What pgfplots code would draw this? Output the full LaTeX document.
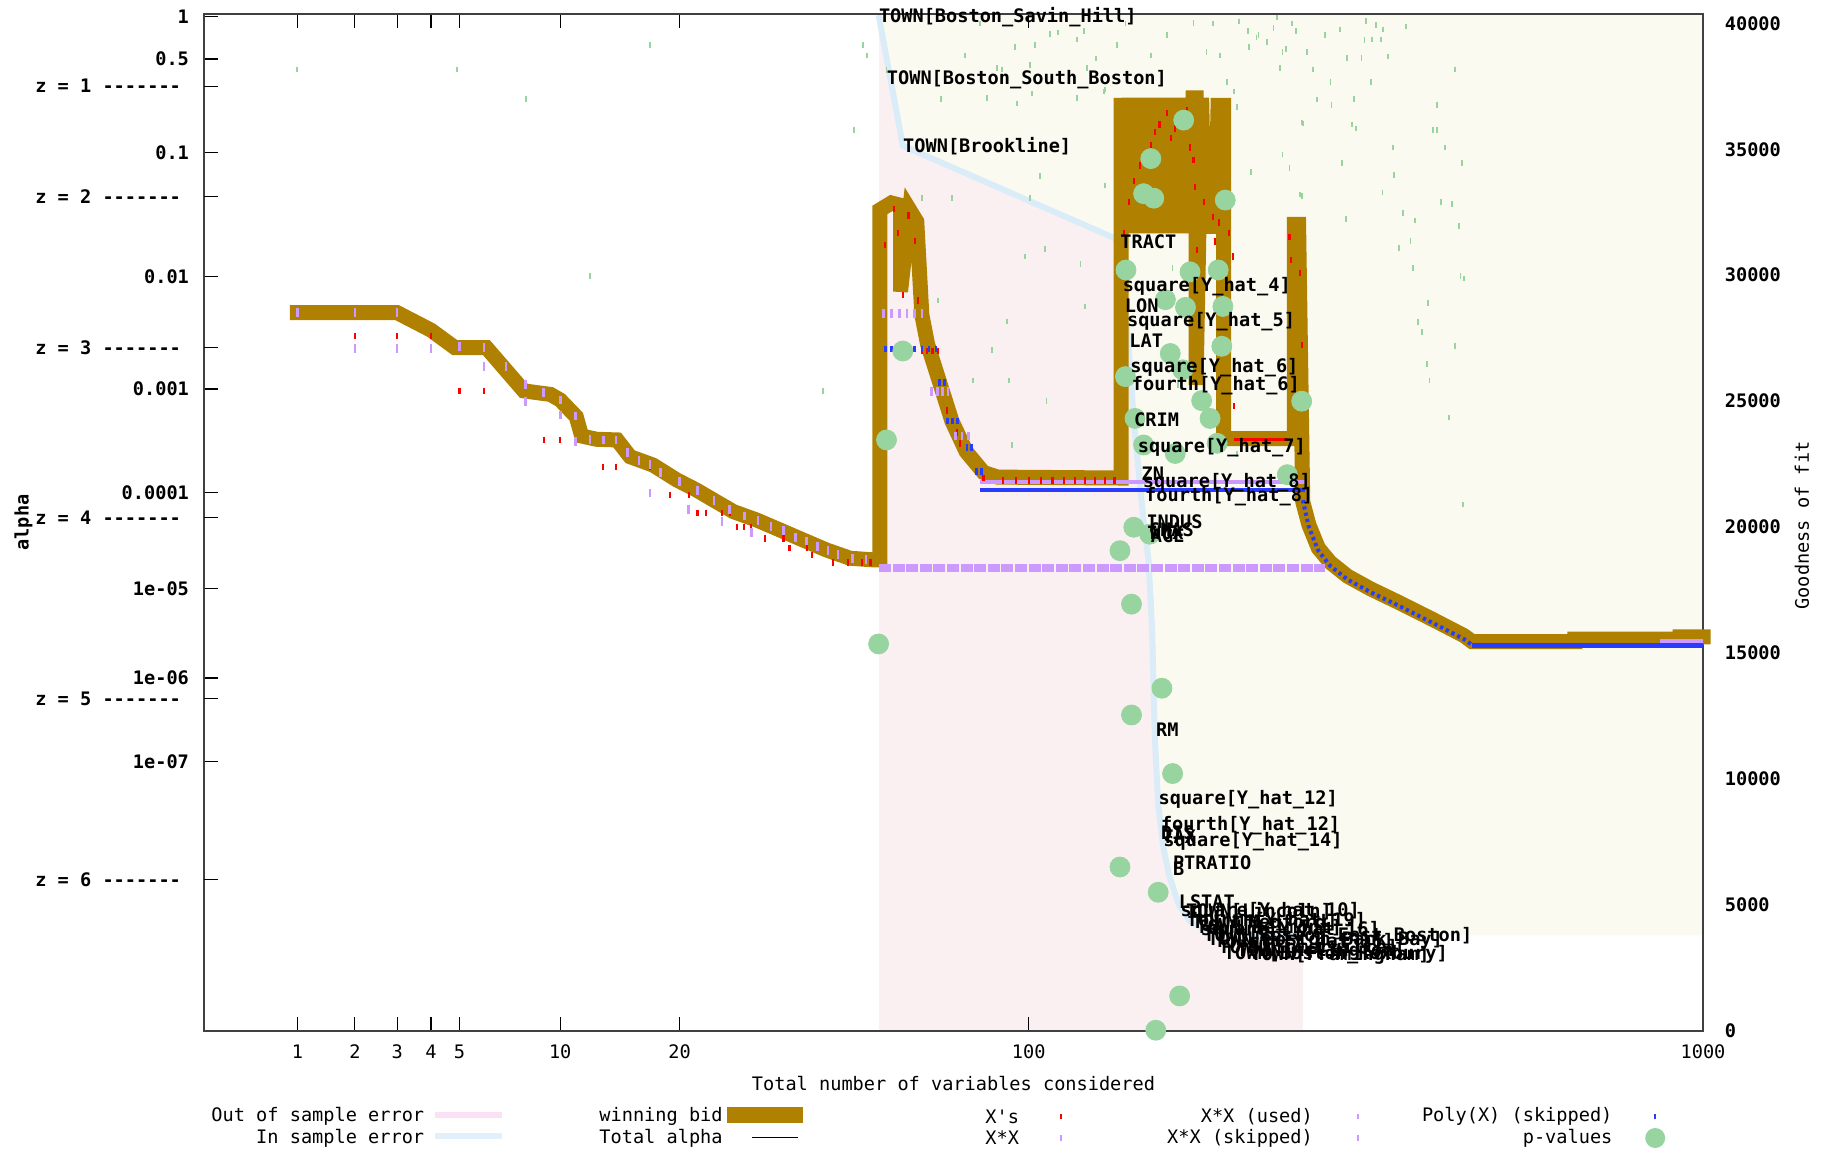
\documentclass[border=0pt]{standalone}
\usepackage{pgfplots}
\pgfplotsset{compat=1.18}
\usepackage{fontspec}
\setmonofont{DejaVu Sans Mono}
\newcommand\gp{\ttfamily\fontsize{9.3}{11}\selectfont}
\newcommand\gpb{\ttfamily\bfseries\fontsize{9.3}{11}\selectfont}
\newcommand\gpdash{-{}-{}-{}-{}-{}-{}-}
\definecolor{brownbid}{RGB}{176,128,0}
\definecolor{pinkbg}{RGB}{250,240,242}
\definecolor{beigebg}{RGB}{250,250,240}
\definecolor{insample}{RGB}{218,236,248}
\definecolor{lav}{RGB}{204,153,255}
\definecolor{bluep}{RGB}{40,60,255}
\definecolor{pgreen}{RGB}{152,212,160}
\definecolor{legpink}{RGB}{250,225,245}
\definecolor{legblue}{RGB}{225,240,250}
\pgfplotsset{
 gpbase/.style={
  scale only axis, width=749.5pt, height=508.5pt,
  x coord trafo/.code={\begingroup\pgfkeys{/pgf/fpu=true,/pgf/fpu/output format=fixed}\pgfmathparse{ln(##1)/ln(10)}\let\gpL\pgfmathresult\pgfmathparse{\gpL*(1+0.643*abs(\gpL))}\xdef\gptmpx{\pgfmathresult}\endgroup\let\pgfmathresult\gptmpx},
  xmin=0.353, xmax=1000,
  tick align=inside, major tick length=7pt,
  every tick/.style={black, line width=0.6pt},
  axis line style={black!75, line width=0.8pt},
  tick label style={font=\gpb},
  clip=false,
 },
}
\begin{document}
\begin{tikzpicture}
%% ---------- right axis: goodness of fit ----------
\begin{axis}[gpbase,
  ymin=0, ymax=40370,
  axis x line=none, axis y line*=right,
  ytick={0,5000,10000,15000,20000,25000,30000,35000,40000},
  yticklabels={0,5000,10000,15000,20000,25000,30000,35000,40000},
  yticklabel style={xshift=7.4pt},
  ylabel={Goodness of fit},
  y label style={font=\gp, at={(axis description cs:1.066,0.497)}, anchor=center},
]
% out of sample error (off the top of the chart)
\addplot[draw=none, fill=pinkbg] coordinates {(52.9,0) (278,0) (278,40370) (52.9,40370)};
% region above the in-sample error
\addplot[draw=none, fill=beigebg] coordinates {
 (52.9,40324) (58.9,35139) (141.2,31435) (144.3,29537) (146.7,28148) (148.6,26343)
 (150.7,24259) (153.6,22130) (156.4,20231) (159.3,18704) (161.5,15926) (163,11806)
 (165.2,8981) (168.2,7361) (172,6204) (178.1,5046) (185.9,4352) (198,3981) (220.6,3843)
 (278,3796) (1000,3796) (1000,40370) (52.9,40370)};
% in sample error
\addplot[insample, line width=3pt] coordinates {
 (52.9,40324) (58.9,35139) (141.2,31435) (144.3,29537) (146.7,28148) (148.6,26343)
 (150.7,24259) (153.6,22130) (156.4,20231) (159.3,18704) (161.5,15926) (163,11806)
 (165.2,8981) (168.2,7361) (172,6204) (178.1,5046) (185.9,4352) (198,3981) (220.6,3843)
 (278,3796)};
\end{axis}
%% ---------- left axis: alpha ----------
\begin{axis}[gpbase,
  y coord trafo/.code={\begingroup\pgfkeys{/pgf/fpu=true,/pgf/fpu/output format=fixed}\pgfmathparse{-ln(9-ln(#1)/ln(10))}\xdef\gptmpy{\pgfmathresult}\endgroup\let\pgfmathresult\gptmpy},
  ymin=2e-11, ymax=1.038,
  ytick={1,0.5,0.1,0.01,0.001,0.0001,1e-5,1e-6,1e-7},
  yticklabels={1,0.5,0.1,0.01,0.001,0.0001,1e-05,1e-06,1e-07},
  extra y ticks={0.3173,0.0455,0.0024,5.6e-5,5.7e-7,3e-9},
  extra y tick labels={z = 1 \gpdash,z = 2 \gpdash,z = 3 \gpdash,z = 4 \gpdash,z = 5 \gpdash,z = 6 \gpdash},
  extra y tick style={ytick pos=left, yticklabel style={xshift=-4pt}},
  ytick pos=left,
  yticklabel style={xshift=-4pt},
  xtick={1,2,3,4,5,10,20,100,1000},
  xticklabels={1,2,3,4,5,10,20,100,1000},
  xticklabel style={font=\gp, yshift=-3.5pt},
  xlabel={Total number of variables considered},
  x label style={font=\gp, at={(axis description cs:0.5,-0.0518)}, anchor=center},
  ylabel={alpha},
  y label style={font=\gpb, at={(axis description cs:-0.1205,0.5)}, anchor=center},
]
% winning bid
\addplot[brownbid, line width=7.5pt, line cap=rect, line join=miter, miter limit=4] coordinates {
 (1,4.86e-3) (3,4.86e-3) (4,3.41e-3) (4.83,2.38e-3) (6.1,2.38e-3) (7.9,9.6e-4) (9.4,8.9e-4)
 (10,7.9e-4) (11.05,5.5e-4) (11.42,3.6e-4) (12.5,3.35e-4) (14.1,3.3e-4) (15.2,2.27e-4)
 (17.3,1.88e-4) (19.7,1.34e-4) (21.9,1.06e-4) (23.9,8.45e-5) (26.5,6.43e-5) (29.8,5.27e-5)
 (33.4,4.17e-5) (37.4,3.27e-5) (41.7,2.58e-5) (46.5,2.11e-5) (51.7,2.03e-5) (53.2,2.03e-5)
 (53.2,0.0354) (56,0.0403) (58.3,0.0386) (58.3,7.4e-3) (60.7,0.0354) (62.6,0.0285)
 (64,4.65e-3) (65.6,2.56e-3) (69.1,1.15e-3) (72.8,5.0e-4) (77.3,2.55e-4) (83.1,1.59e-4)
 (88.1,1.43e-4) (143.6,1.4e-4)
 (143.6,0.26) (146,0.0229) (148,0.26) (150,0.0229) (152,0.26) (154,0.0229) (156,0.26)
 (158,0.0229) (160,0.26) (162,0.0229) (164,0.26) (166,0.0229) (168,0.26) (170,0.0229)
 (172,0.26) (174,0.0229) (176,0.26) (178,0.0229) (180,0.26) (182,0.0229) (184,0.26)
 (186,0.0229) (188,0.26) (190,0.26) (190,1.09e-3) (192,0.0229) (194,0.26) (196,0.0229)
 (198,0.044) (200,0.0229) (202,0.044) (204,0.0229) (206,0.26) (208,0.0229) (210,0.26)
 (210,3.4e-4) (270,3.4e-4) (270,0.027) (274,0.027)
 (278,8.1e-5) (284,4.7e-5) (293.4,2.7e-5) (305.4,1.92e-5) (324.3,1.36e-5) (351,9.9e-6)
 (387,6.97e-6) (434,4.47e-6) (477.5,3.03e-6) (490,2.6e-6) (678,2.6e-6) (678,2.77e-6)
 (934,2.77e-6) (934,2.94e-6) (1000,2.94e-6)};
% X*X (skipped) long row
\addplot[lav, line width=4pt, dash pattern=on 6pt off 0.8pt] coordinates {(53,1.66e-5) (300,1.66e-5)};
% plateau rows
\addplot[lav, line width=2pt] coordinates {(82,1.28e-4) (280,1.28e-4)};
\addplot[bluep, line width=2pt] coordinates {(82,1.06e-4) (280,1.06e-4)};
\addplot[bluep, line width=2pt, dash pattern=on 1.6pt off 1.6pt] coordinates {
 (278,8.4e-5) (284,4.45e-5) (293.4,2.54e-5) (305.4,1.76e-5) (324.3,1.25e-5) (351,9.1e-6)
 (387,6.4e-6) (434,4.1e-6) (477.5,2.77e-6) (490,2.38e-6)};
\addplot[bluep, line width=2.5pt] coordinates {(490,2.38e-6) (1000,2.38e-6)};
\addplot[lav, line width=2pt] coordinates {(880,2.62e-6) (1000,2.62e-6)};
\addplot[red, line width=1.4pt] coordinates {(218,3.35e-4) (263,3.35e-4)};
% X's
\addplot[only marks, mark=|, mark size=1.6pt, red, mark options={line width=1.1pt}] coordinates {
 (2,3.03e-3) (3,3.03e-3) (4,3.03e-3) (5,9.6e-4) (6,9.6e-4) (9,3.3e-4) (10,3.3e-4) (11,3.3e-4)
 (12,3.3e-4) (13,1.8e-4) (14,1.8e-4) (17,1.8e-4) (19,9.5e-5) (21,9.5e-5) (22,6.2e-5) (23,6.2e-5)
 (25,6.2e-5) (26,6.2e-5) (27,4.5e-5) (28,4.5e-5) (29,4.5e-5) (31,3.4e-5) (34,3.4e-5) (35,2.7e-5)
 (38,2.7e-5) (39,2.3e-5) (43,1.9e-5) (46,1.9e-5) (49,1.9e-5) (51,1.9e-5)
 (56.6,0.036) (60.4,0.032) (54.5,0.0183) (57.7,0.0229) (62.1,0.0197) (58.9,6.9e-3) (63,6.2e-3)
 (64,2.22e-3) (65.5,2.22e-3) (67,2.22e-3) (68.5,2.22e-3) (71.2,6.3e-4) (74.3,3.9e-4) (75.4,3.06e-4)
 (83.1,1.4e-4) (90,1.32e-4) (95,1.32e-4) (100,1.32e-4) (105,1.32e-4) (110,1.32e-4) (115,1.32e-4)
 (120,1.32e-4) (125,1.32e-4) (130,1.32e-4) (135,1.32e-4) (140,1.32e-4)
 (170.5,0.2) (166,0.165) (163.3,0.145) (160.7,0.115) (154.5,0.08) (150.6,0.06) (147.9,0.041)
 (145.3,0.0229) (183.6,0.21) (175.8,0.154) (173.5,0.13) (186,0.11) (188.3,0.088) (189.5,0.054)
 (195.5,0.041) (202.4,0.031) (206.4,0.028) (214,0.0229) (203.7,0.0196) (217,0.0147) (190.8,0.0167)
 (265.5,0.0212) (267,0.0137) (275,0.0106) (277,2.5e-3) (218,6.9e-4)};
% X*X
\addplot[only marks, mark=|, mark size=2.2pt, lav, mark options={line width=1.3pt}] coordinates {
 (1,4.86e-3) (2,4.86e-3) (3,4.86e-3) (5,2.45e-3) (6,2.38e-3) (7,1.6e-3) (8,1.1e-3) (9,9.3e-4)
 (10,7.9e-4) (11,5.6e-4) (12,3.35e-4) (13,3.3e-4) (14,3.3e-4) (15,2.5e-4) (16,2.1e-4) (17,1.9e-4)
 (18,1.6e-4) (20,1.3e-4) (22,1.05e-4) (24,8.4e-5) (26,6.8e-5) (28,5.8e-5) (30,5.2e-5) (32,4.5e-5)
 (34,4.1e-5) (36,3.5e-5) (38,3.2e-5) (40,2.8e-5) (42,2.55e-5) (44,2.3e-5) (47,2.1e-5) (50,2.05e-5)
 (2,2.35e-3) (3,2.35e-3) (4,2.35e-3) (6,1.6e-3) (7,1.6e-3) (8,7.6e-4) (10,5.7e-4) (11,3.2e-4)
 (17,9.9e-5) (21,6.8e-5) (25,5.1e-5) (29,3.9e-5)
 (54,4.8e-3) (56,4.8e-3) (58,4.8e-3) (60,4.8e-3) (62,4.8e-3) (64,4.8e-3)
 (66.8,9.5e-4) (68.5,9.5e-4) (70,9.5e-4) (71.6,9.5e-4) (74,3.6e-4) (76,3.6e-4) (78,3.6e-4)};
% Poly(X) (skipped)
\addplot[only marks, mark=|, mark size=1.6pt, bluep, mark options={line width=1.3pt}] coordinates {
 (54.5,2.33e-3) (56,2.33e-3) (58,2.33e-3) (60,2.33e-3) (62,2.33e-3) (64,2.33e-3) (66,2.33e-3)
 (68,2.33e-3) (69,1.15e-3) (70.5,1.15e-3) (71.5,5e-4) (73,5e-4) (74.5,5e-4) (77.6,2.8e-4)
 (79,2.8e-4) (80.7,1.63e-4) (82.5,1.63e-4)};
% small p-values
\addplot[only marks, mark=|, mark size=1.4pt, pgreen, mark options={line width=0.9pt}] coordinates {
 (1,0.42) (4.9,0.42) (8,0.255) (12,0.0101) (17,0.63) (41,9.6e-4) (49.4,0.63) (50.2,0.53) (47.3,0.15)
 (76.9,0.53) (87.9,0.43) (89.6,0.42) (100.6,0.45) (108.9,0.75) (112.5,0.77) (121,0.69) (124.4,0.79)
 (141.2,0.63) (102.4,0.63) (69.6,0.255) (84.3,0.26) (95.3,0.236) (101.3,0.281) (126,0.43)
 (134.9,0.30) (121,0.26) (104.7,0.066) (100.6,0.044) (72.8,0.044) (91.6,4.05e-3) (92.3,1.2e-3)
 (107.4,7.7e-4) (93.5,2.95e-4) (68.7,6.2e-3) (79.6,1.2e-3) (122.8,0.0127) (125,5.5e-3)
 (106.8,0.017) (134.9,0.0555) (134.3,0.29) (160.7,0.53) (188.3,0.90) (197.5,0.56) (207.6,0.53)
 (212.5,0.34) (218,0.29) (220.6,0.223) (229,0.79) (236.3,0.71) (245,0.66) (251,0.83) (259,0.56)
 (262,0.59) (271.5,0.79) (277,0.17) (265.5,0.076) (259,0.097) (275,0.047) (231.6,0.071)
 (292,0.253) (307,0.231) (323.6,0.51) (345.5,0.93) (357,0.87) (366,0.81) (394.5,0.85)
 (343.5,0.68) (352,0.69) (363,0.69) (340,0.51) (372,0.52) (331.5,0.255) (329,0.165) (278,0.167)
 (431,0.15) (437.7,0.15) (378,0.11) (448.7,0.11) (277,0.046) (323,0.030) (390.5,0.0335)
 (407,0.029) (443,0.0412) (459,0.0394) (469.5,0.0262) (385.5,0.0172) (400.5,0.0197)
 (472,0.0100) (477.5,0.0096) (410.5,4.0e-3) (416,3.3e-3) (463,2.45e-3) (423,1.7e-3)
 (426.5,1.2e-3) (454.5,5.4e-4) (476,7.6e-5)
 (222,0.92) (230,0.61) (238,0.74) (254,0.98) (257,0.43) (268,0.89) (282,0.56) (288,0.42)
 (300,0.74) (306,0.34) (316,0.81) (318,0.083) (334,0.154) (351,0.34) (365,0.049) (379,0.067)
 (404,0.0117) (424,5.9e-3) (437.7,0.231) (464,0.42) (474,0.083) (82,0.89) (94.5,0.61)
 (116,0.98) (130.5,0.505) (146,0.89) (170.5,0.74) (202.4,0.89) (174.3,0.0117) (178,1.09e-3)
 (220.6,2.4e-4) (98.5,0.0147) (86,2.27e-3) (64,0.044) (54.8,0.416)};
% p-values
\addplot[only marks, mark=*, mark size=5pt, pgreen, mark options={draw=none}] coordinates {
 (52.9,2.45e-6) (54.8,3.3e-4) (58.9,2.22e-3) (181.6,0.1775) (160.7,0.0902) (156.4,0.0478)
 (162.5,0.044) (211.3,0.0425) (146.3,0.0113) (185.9,0.0109) (206,0.0113) (182.8,5.4e-3)
 (209.5,5.5e-3) (172.8,2.11e-3) (208.7,2.45e-3) (146,1.3e-3) (194,7.8e-4) (200,5.3e-4)
 (151.4,5.3e-4) (277,7.7e-4) (156.4,2.95e-4) (176,2.44e-4) (205.2,3.06e-4) (263.4,1.51e-4)
 (169.7,6.3e-3) (181,1.5e-3) (150.7,4.45e-5) (160,3.77e-5) (143,2.54e-5) (149.4,6.77e-6)
 (167.5,7.6e-7) (149.4,3.67e-7) (174.3,7.1e-8) (143,4.4e-9) (165.2,2e-9) (178.9,6.7e-11)
 (163.7,2.05e-11)};
\end{axis}
%% ---------- labels of the variables added ----------
\begin{axis}[gpbase, ymin=0, ymax=40370, hide axis]
\begin{scope}[every node/.style={anchor=west, inner sep=0pt, font=\gpb}]
\node at (axis cs:52.9,40250) {TOWN[Boston\_Savin\_Hill]};
\node at (axis cs:54.8,37778) {TOWN[Boston\_South\_Boston]};
\node at (axis cs:58.9,35139) {TOWN[Brookline]};
\node at (axis cs:143,31343) {TRACT};
\node at (axis cs:144.3,29537) {square[Y\_hat\_4]};
\node at (axis cs:145.5,28796) {LON};
\node at (axis cs:146.7,28148) {square[Y\_hat\_5]};
\node at (axis cs:148,27407) {LAT};
\node at (axis cs:148.6,26343) {square[Y\_hat\_6]};
\node at (axis cs:149.4,25602) {fourth[Y\_hat\_6]};
\node at (axis cs:150.7,24259) {CRIM};
\node at (axis cs:152.8,23148) {square[Y\_hat\_7]};
\node at (axis cs:155,22130) {ZN};
\node at (axis cs:155.7,21759) {square[Y\_hat\_8]};
\node at (axis cs:157.1,21204) {fourth[Y\_hat\_8]};
\node at (axis cs:157.9,20231) {INDUS};
\node at (axis cs:159.3,19900) {CHAS};
\node at (axis cs:160,19769) {NOX};
\node at (axis cs:160.5,19650) {AGE};
\node at (axis cs:163.7,11944) {RM};
\node at (axis cs:165.2,9167) {square[Y\_hat\_12]};
\node at (axis cs:166.7,8148) {fourth[Y\_hat\_12]};
\node at (axis cs:166.7,7870) {DIS};
\node at (axis cs:167.5,7700) {TAX};
\node at (axis cs:168.2,7500) {square[Y\_hat\_14]};
\node at (axis cs:174.3,6667) {PTRATIO};
\node at (axis cs:174.3,6435) {B};
\node at (axis cs:178.1,5139) {LSTAT};
\node at (axis cs:179.3,4741) {square[Y\_hat\_10]};
\node at (axis cs:183,4741) {TOWN[Lincoln]};
\node at (axis cs:183.4,4352) {fourth[Y\_hat\_19]};
\node at (axis cs:187,4300) {TOWN[Medford]};
\node at (axis cs:190,4120) {TOWN[Belmont]};
\node at (axis cs:193,3981) {square[Y\_hat\_16]};
\node at (axis cs:195,3750) {TOWN[Boston\_East\_Boston]};
\node at (axis cs:198,3600) {TOWN[Boston\_Back\_Bay]};
\node at (axis cs:203,3519) {fourth[Y\_hat\_16]};
\node at (axis cs:206,3333) {TOWN[Somerville]};
\node at (axis cs:220,3200) {TOWN[Arlington]};
\node at (axis cs:210,3023) {TOWN[Boston\_Roxbury]};
\node at (axis cs:231,3023) {TOWN[Framingham]};
\end{scope}
\end{axis}
%% ---------- key ----------
\begin{scope}[every node/.style={anchor=east, inner sep=0pt, font=\gp}]
\node at (110.3pt,-42.8pt) {Out of sample error};
\node at (110.3pt,-53.5pt) {In sample error};
\node at (259.5pt,-42.8pt) {winning bid};
\node at (259.5pt,-53.5pt) {Total alpha};
\node at (407.7pt,-42.8pt) {X's};
\node at (407.7pt,-53.5pt) {X*X};
\node at (554.6pt,-42.8pt) {X*X (used)};
\node at (554.6pt,-53.5pt) {X*X (skipped)};
\node at (704.4pt,-42.8pt) {Poly(X) (skipped)};
\node at (704.4pt,-53.5pt) {p-values};
\end{scope}
\draw[legpink, line width=3.3pt] (115.6pt,-42pt) -- (148.8pt,-42pt);
\draw[legblue, line width=3.3pt] (115.6pt,-52.5pt) -- (148.8pt,-52.5pt);
\fill[brownbid] (261.5pt,-46pt) rectangle (299.4pt,-38pt);
\draw[black, line width=0.7pt] (274pt,-53.3pt) -- (297pt,-53.3pt);
\draw[red, line width=0.8pt] (428.6pt,-44.2pt) -- (428.6pt,-41.4pt);
\draw[lav, line width=0.8pt] (428.6pt,-54.9pt) -- (428.6pt,-52.1pt);
\draw[lav, line width=0.8pt] (577pt,-44.2pt) -- (577pt,-41.4pt);
\draw[lav, line width=0.8pt] (577pt,-54.9pt) -- (577pt,-52.1pt);
\draw[bluep, line width=0.8pt] (725.6pt,-44.2pt) -- (725.6pt,-41.4pt);
\fill[pgreen] (725.6pt,-53.5pt) circle (5pt);
\pgfresetboundingbox
\path[use as bounding box] (-102pt,-59.5pt) rectangle (812.5pt,515.5pt);
\end{tikzpicture}
\end{document}
